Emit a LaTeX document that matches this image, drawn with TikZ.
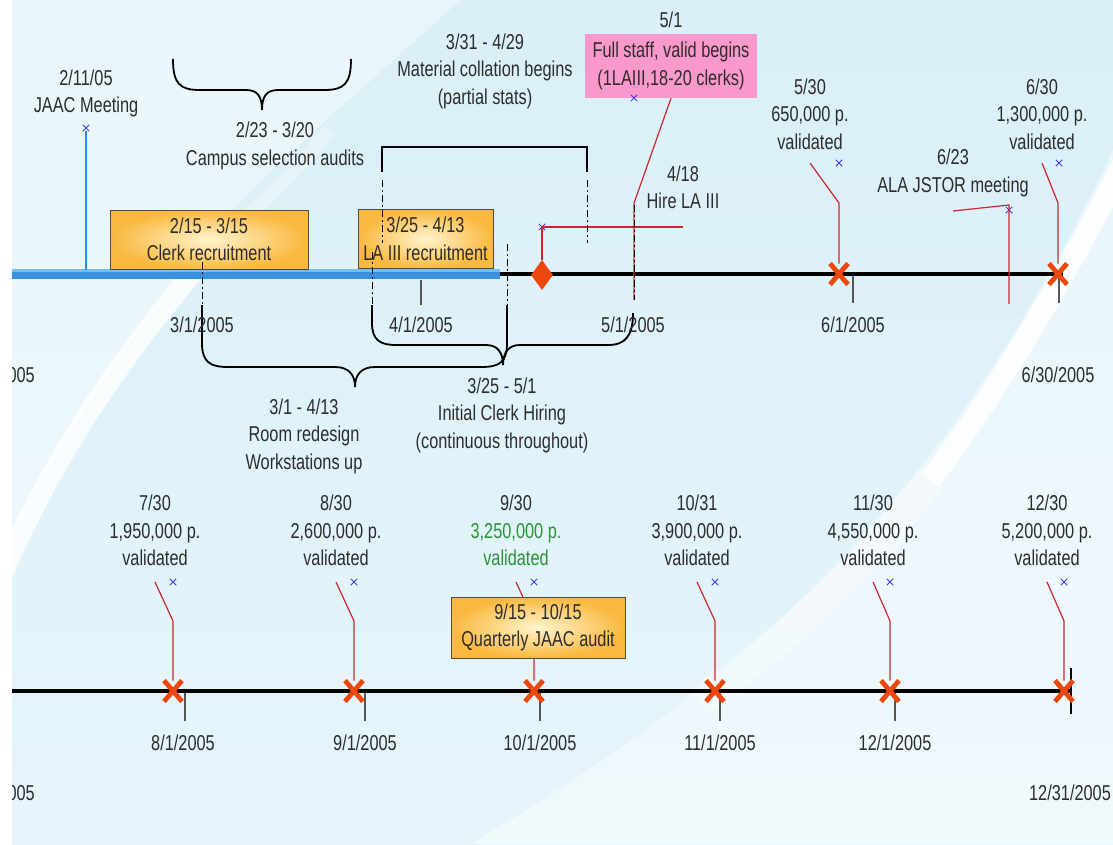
\documentclass[tikz,border=0pt]{standalone}
\usepackage{fontspec}
\setmainfont[FakeStretch=0.76]{Liberation Sans}
\usetikzlibrary{positioning,calc,shapes.geometric,shapes.misc}

\definecolor{bgtop}{RGB}{218,239,248}
\definecolor{bgbot}{RGB}{230,245,251}
\definecolor{ink}{RGB}{45,45,45}
\definecolor{xorange}{RGB}{236,72,14}
\definecolor{leadred}{RGB}{200,40,45}
\definecolor{markblue}{RGB}{60,60,240}
\definecolor{jaacblue}{RGB}{40,140,230}
\definecolor{barblue}{RGB}{55,145,220}
\definecolor{barlight}{RGB}{115,190,240}
\definecolor{boxlight}{RGB}{255,244,205}
\definecolor{boxdark}{RGB}{250,184,62}
\definecolor{pinkbox}{RGB}{250,152,204}
\definecolor{okgreen}{RGB}{40,150,50}
\definecolor{tickgray}{RGB}{85,85,85}

\begin{document}
\begin{tikzpicture}[x=1pt,y=-1pt,
	every node/.style={font=\fontsize{21.5}{27.5}\selectfont,text=ink,inner sep=0pt},
	lbl/.style={align=center},
	datebox/.style={draw=black!70,line width=1pt,inner color=boxlight,outer color=boxdark,align=center,minimum height=59pt},
	bigx/.style={cross out,draw=xorange,line width=4.8pt,minimum width=18pt,minimum height=21pt,outer sep=0pt},
	smallx/.style={cross out,draw=markblue,line width=0.8pt,minimum size=6.5pt,outer sep=0pt},
	leader/.style={draw=leadred,line width=1.2pt},
	tick/.style={draw=tickgray,line width=1.5pt},
	dashtick/.style={draw=black,line width=1pt,dash pattern=on 7pt off 3pt on 2pt off 3pt},
	brace/.style={draw=black,line width=1.8pt}]
	\useasboundingbox (0,0) rectangle (1113,844);
	\fill[white] (0,0) rectangle (1113,844);
	\begin{scope}
		\clip (12,0) rectangle (1113,844);
		% background
		\shade[top color=bgtop,bottom color=bgbot] (12,0) rectangle (1113,844);
		\fill[white,opacity=0.4] (12,0) -- (460,0) .. controls (340,110) and (240,190) .. (185,265) .. controls (120,355) and (55,445) .. (12,545) -- cycle;
		\draw[white,opacity=0.3,line width=14pt] (330,130) .. controls (280,190) and (230,230) .. (195,270);
		\draw[white,opacity=0.8,line width=20pt] (195,270) .. controls (130,350) and (60,440) .. (0,580);
		\fill[white,opacity=0.4] (1113,150) .. controls (1040,300) and (950,460) .. (780,620) .. controls (680,710) and (580,780) .. (470,844) -- (1113,844) -- cycle;
		\draw[white,opacity=0.85,line width=22pt] (1130,150) .. controls (1080,250) and (1000,390) .. (930,480);
		\draw[white,opacity=0.35,line width=30pt] (930,480) .. controls (870,560) and (800,630) .. (700,700);

		% braces and bracket
		\draw[brace] (173,59) .. controls (173,84) and (180,90) .. (200,90) -- (246,90) .. controls (258,90) and (262,97) .. (262,110) .. controls (262,97) and (266,90) .. (278,90) -- (324,90) .. controls (344,90) and (351,84) .. (351,59);
		\draw[brace] (382,172) -- (382,147) -- (587,147) -- (587,172);
		\draw[brace] (202,305) -- (202,343) .. controls (202,362) and (210,367) .. (228,367) -- (335,367) .. controls (349,367) and (355,375) .. (355,387) .. controls (355,375) and (361,367) .. (375,367) -- (481,367) .. controls (500,367) and (507,362) .. (507,343) -- (507,305);
		\draw[brace] (372,305) -- (372,323) .. controls (372,340) and (380,345) .. (396,345) -- (486,345) .. controls (498,345) and (503,353) .. (503,365) .. controls (503,353) and (508,345) .. (520,345) -- (608,345) .. controls (626,345) and (633,335) .. (633,313);

		% timelines
		\draw[line width=4pt] (490,274) -- (1063,274);
		\draw[barblue,line width=10pt] (12,274) -- (500,274);
		\draw[barlight,line width=2.5pt] (12,270.5) -- (500,270.5);
		\draw[line width=4pt] (12,691) -- (1071,691);

		% ticks
		\draw[tick] (421,280) -- (421,305);
		\draw[tick] (853,276) -- (853,303);
		\draw[tick] (1059,276) -- (1059,303);
		\draw[tick] (185,693) -- (185,721);
		\draw[tick] (365,693) -- (365,721);
		\draw[tick] (540,693) -- (540,721);
		\draw[tick] (720,693) -- (720,721);
		\draw[tick] (895,693) -- (895,721);
		\draw[line width=1.2pt] (1071,668) -- (1071,714);

		% labels
		\node[lbl] (JAAC)    at (86,93.5)   {2/11/05\\JAAC Meeting};
		\node[lbl] (CAMPUS)  at (275,146)   {2/23 - 3/20\\Campus selection audits};
		\node[lbl] (COLLATE) at (485,71)    {3/31 - 4/29\\Material collation begins\\(partial stats)};
		\node      (FULLDAY) at (671,20)    {5/1};
		\node[lbl,fill=pinkbox,minimum width=172pt,minimum height=64pt] (FULL) at (671,66) {Full staff, valid begins\\(1LAIII,18-20 clerks)};
		\node[lbl] (HIRE)    at (683,187.5) {4/18\\Hire LA III};
		\node[lbl] (V530)    at (810,114)   {5/30\\650,000 p.\\validated};
		\node[lbl] (ALA)     at (953,173)   {6/23\\ALA JSTOR meeting};
		\node[lbl] (V630)    at (1042,114)  {6/30\\1,300,000 p.\\validated};
		\node[lbl] (ROOM)    at (304,436)   {3/1 - 4/13\\Room redesign\\Workstations up};
		\node[lbl] (HIRING)  at (502,415)   {3/25 - 5/1\\Initial Clerk Hiring\\(continuous throughout)};

		\node[lbl] (V730)  at (155,530.5)  {7/30\\1,950,000 p.\\validated};
		\node[lbl] (V830)  at (336,530.5)  {8/30\\2,600,000 p.\\validated};
		\node[lbl] (V930)  at (516,530.5)  {9/30\\\textcolor{okgreen}{3,250,000 p.}\\\textcolor{okgreen}{validated}};
		\node[lbl] (V1031) at (697,530.5)  {10/31\\3,900,000 p.\\validated};
		\node[lbl] (V1130) at (873,530.5)  {11/30\\4,550,000 p.\\validated};
		\node[lbl] (V1230) at (1047,530.5) {12/30\\5,200,000 p.\\validated};

		% boxes on the bar
		\node[datebox,minimum width=198pt] (CLERK) at (209,239.5) {2/15 - 3/15\\Clerk recruitment};
		\node[datebox,minimum width=135pt] (LAREC) at (425.5,239) {3/25 - 4/13\\LA III recruitment};

		% marks
		\node[bigx] (X530)  at (839,274) {};
		\node[bigx] (X630)  at (1058,274) {};
		\node[diamond,fill=xorange,minimum width=22pt,minimum height=30pt] (HIRED) at (542,275) {};
		\node[bigx] (X730)  at (173,691) {};
		\node[bigx] (X830)  at (354,691) {};
		\node[bigx] (X930)  at (534,691) {};
		\node[bigx] (X1031) at (715,691) {};
		\node[bigx] (X1130) at (890,691) {};
		\node[bigx] (X1230) at (1064,691) {};

		\node[smallx] (M0211) at (86,128) {};
		\node[smallx] (M0418) at (542,227) {};
		\node[smallx] (M0501) at (634,98) {};
		\node[smallx] (M0530) at (839,163) {};
		\node[smallx] (M0623) at (1009,210) {};
		\node[smallx] (M0630) at (1059,163) {};
		\node[smallx] (M0730) at (173,582) {};
		\node[smallx] (M0830) at (354,582) {};
		\node[smallx] (M0930) at (534,582) {};
		\node[smallx] (M1031) at (715,582) {};
		\node[smallx] (M1130) at (890,582) {};
		\node[smallx] (M1230) at (1064,582) {};

		\coordinate (L530)  at (810,163);
		\coordinate (L630)  at (1042,163);
		\coordinate (L623)  at (953,211);
		\coordinate (L730)  at (155,582);
		\coordinate (L830)  at (336,582);
		\coordinate (L930)  at (516,582);
		\coordinate (L1031) at (697,582);
		\coordinate (L1130) at (873,582);
		\coordinate (L1230) at (1047,582);

		% connectors
		\draw[jaacblue,line width=1.2pt] (M0211) -- (M0211 |- CLERK.south);
		\draw[leader] (HIRED.north) -- (M0418.center) -- (M0418 -| HIRE);
		\draw[leader] (FULL.south) -- ++(-37,105) -- ++(0,97);
		\draw[leader] (L530) -- ++(29,40) -- (X530);
		\draw[leader] (L630) -- ++(16,40) -- (X630);
		\draw[leader] (L623) -- ++(56,-6) -- ++(0,99);
		\draw[leader] (L730) -- ++(18,39) -- (X730);
		\draw[leader] (L830) -- ++(18,39) -- (X830);
		\draw[leader] (L930) -- ++(18,39) -- (X930);
		\draw[leader] (L1031) -- ++(18,39) -- (X1031);
		\draw[leader] (L1130) -- ++(17,39) -- (X1130);
		\draw[leader] (L1230) -- ++(17,39) -- (X1230);

		\node[datebox,minimum width=174pt,minimum height=61pt] (AUDIT) at (538,627.5) {9/15 - 10/15\\Quarterly JAAC audit};

		% dashed extensions
		\draw[dashtick] (202,262) -- (202,305);
		\draw[dashtick] (372,252) -- (372,305);
		\draw[dashtick] (507,244) -- (507,305);
		\draw[dashtick] (382,180) -- (382,243);
		\draw[dashtick] (587,180) -- (587,243);
		\draw[dashtick] (634,205) -- (634,300);

		% dates
		\node[anchor=east] (D0101) at (35,375) {1/1/2005};
		\node (D0301) at (202,325)  {3/1/2005};
		\node (D0401) at (421,325)  {4/1/2005};
		\node (D0501) at (633,325)  {5/1/2005};
		\node (D0601) at (853,325)  {6/1/2005};
		\node (D0630) at (1058,375) {6/30/2005};
		\node[anchor=east] (D0701) at (35,793) {7/1/2005};
		\node (D0801) at (183,743)  {8/1/2005};
		\node (D0901) at (365,743)  {9/1/2005};
		\node (D1001) at (540,743)  {10/1/2005};
		\node (D1101) at (720,743)  {11/1/2005};
		\node (D1201) at (895,743)  {12/1/2005};
		\node (D1231) at (1070,793) {12/31/2005};
	\end{scope}
\end{tikzpicture}
\end{document}
